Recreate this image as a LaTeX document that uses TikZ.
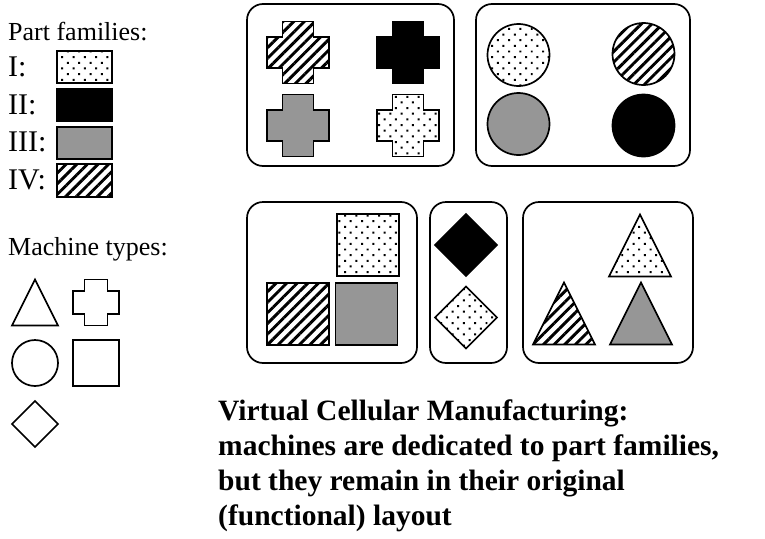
\documentclass[tikz,border=0pt]{standalone}
\usepackage{fontspec}
\setmainfont{Liberation Serif}
\usepackage{tikz}
\usetikzlibrary{patterns.meta}
\definecolor{famgray}{RGB}{150,150,150}
\tikzset{
	x=1pt, y=-1pt,
	shape line/.style={line width=1.7pt},
	cell/.style={line width=1.7pt, rounded corners=16pt},
	famI/.style={pattern={Dots[angle=45, distance=8pt, radius=1.4pt]}},
	famII/.style={fill=black},
	famIII/.style={fill=famgray},
	famIV/.style={pattern={Lines[angle=45, distance=7.5pt, line width=2.9pt]}},
	legend/.style={anchor=base west, inner sep=0pt, font=\fontsize{26}{30}\selectfont},
	numeral/.style={anchor=base west, inner sep=0pt, font=\fontsize{30}{34}\selectfont},
	pics/plus/.style={code={
		\draw[shape line, #1] (-.5,-1) -- (.5,-1) -- (.5,-.5) -- (1,-.5) -- (1,.5) -- (.5,.5)
			-- (.5,1) -- (-.5,1) -- (-.5,.5) -- (-1,.5) -- (-1,-.5) -- (-.5,-.5) -- cycle;}},
	pics/disc/.style={code={\draw[shape line, #1] (0,0) circle[radius=1];}},
	pics/block/.style={code={\draw[shape line, #1] (-1,-1) rectangle (1,1);}},
	pics/rhomb/.style={code={\draw[shape line, #1] (0,-1) -- (1,0) -- (0,1) -- (-1,0) -- cycle;}},
	pics/tri/.style={code={\draw[shape line, #1] (0,-1) -- (1,1) -- (-1,1) -- cycle;}},
}

\begin{document}
\begin{tikzpicture}
	\useasboundingbox (0,0) rectangle (765,538);

	% legend: part families
	\node[legend] (parts) at (8,40) {Part families:};
	\node[numeral] (fI) at (8,76) {I:};
	\node[numeral] (fII) at (8,114) {II:};
	\node[numeral] (fIII) at (8,151) {III:};
	\node[numeral] (fIV) at (8,189) {IV:};
	\draw[shape line, famI] (57,51) rectangle (112,83);
	\draw[shape line, famII] (57,89) rectangle (112,121);
	\draw[shape line, famIII] (57,127) rectangle (112,159);
	\draw[shape line, famIV] (57,164) rectangle (112,197);

	% legend: machine types
	\node[legend] (machines) at (8,255) {Machine types:};
	\pic[scale=23] at (35,302.5) {tri={}};
	\pic[scale=23] at (96,302.5) {plus={}};
	\pic[scale=23] at (35,363) {disc={}};
	\pic[scale=23] at (96,363) {block={}};
	\pic[scale=23] at (35,424) {rhomb={}};

	% cells
	\draw[cell] (247,4) rectangle (454,166);
	\pic[scale=31] at (298,52.5) {plus=famIV};
	\pic[scale=31] at (408,52.5) {plus=famII};
	\pic[scale=31] at (298,125.5) {plus=famIII};
	\pic[scale=31] at (408,125.5) {plus=famI};

	\draw[cell] (476,4) rectangle (690,166);
	\pic[scale=31] at (518.5,55) {disc=famI};
	\pic[scale=31] at (643.5,54) {disc=famIV};
	\pic[scale=31] at (518.5,124) {disc=famIII};
	\pic[scale=31] at (643.5,125.5) {disc=famII};

	\draw[cell] (247,202) rectangle (417,363);
	\pic[scale=31] at (368,245) {block=famI};
	\pic[scale=31] at (298,314) {block=famIV};
	\pic[scale=31] at (366.5,314) {block=famIII};

	\draw[cell] (430,202) rectangle (507,363);
	\pic[scale=31] at (466,245) {rhomb=famII};
	\pic[scale=31] at (466,317.5) {rhomb=famI};

	\draw[cell] (523,202) rectangle (693,363);
	\pic[scale=31] at (640,245.5) {tri=famI};
	\pic[scale=31] at (564,313.5) {tri=famIV};
	\pic[scale=31] at (641,313.5) {tri=famIII};

	\node[anchor=north west, inner sep=0pt, align=left, font=\bfseries\fontsize{29.5}{35}\selectfont] (caption) at (218,400)
		{Virtual Cellular Manufacturing:\\ machines are dedicated to part families,\\ but they remain in their original\\ (functional) layout};
\end{tikzpicture}
\end{document}
